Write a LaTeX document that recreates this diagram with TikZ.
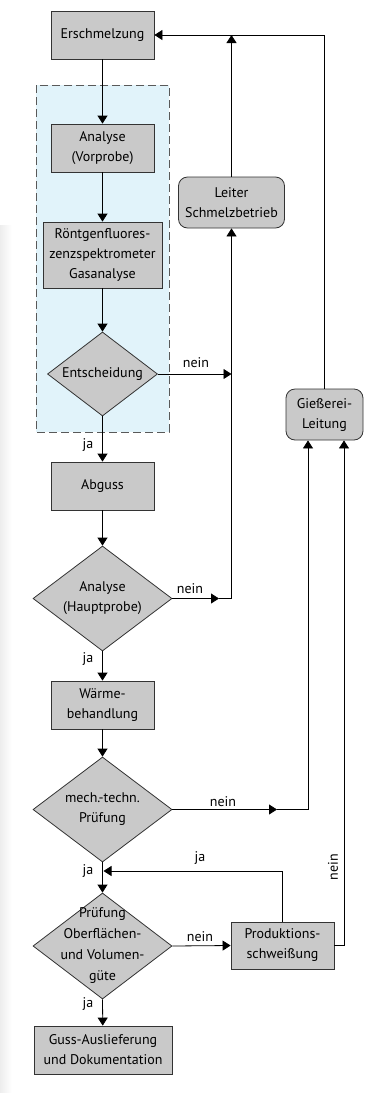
\documentclass[tikz,border=0pt]{standalone}
\usepackage{fontspec}
\setmainfont{PT Sans}
\usetikzlibrary{arrows.meta,positioning,shapes.geometric,calc}
\definecolor{boxgray}{HTML}{C9C9C9}
\definecolor{qsblue}{HTML}{E1F3FA}
\tikzset{
  procbox/.style = {rectangle, draw=black!80, line width=0.8pt, fill=boxgray, minimum height=48pt, minimum width=103pt, align=center, inner sep=2pt},
  leadbox/.style = {procbox, rounded corners=9pt},
  decision/.style = {diamond, draw=black!80, line width=0.8pt, fill=boxgray, inner sep=0pt, minimum width=139pt, minimum height=105pt},
  dtext/.style = {align=center, inner sep=0pt},
  flowline/.style = {line width=0.8pt},
  flowarrow/.style = {-{Triangle[length=8pt,width=10pt]}, line width=0.8pt},
  lbl/.style = {inner sep=1pt},
}

\begin{document}
\begin{tikzpicture}[x=1pt,y=-1pt,font=\fontsize{14}{20}\selectfont]
\useasboundingbox (0,0) rectangle (374,1093);
\fill[left color=gray!14, right color=white] (0,225) rectangle (12,1093);
% Vorprobe-Bereich
\fill[qsblue] (36,85) rectangle (169,432);
\draw[black!65, dash pattern=on 8pt off 4pt, line width=0.8pt] (36,85) rectangle (169,432);

% Hauptspalte
\node[procbox] (ersch) at (102.5,35) {Erschmelzung};
\node[procbox] (vorprobe) at (102.5,148) {Analyse\\(Vorprobe)};
\node[procbox, minimum width=119pt, minimum height=66pt] (rfa) at (102.5,255) {Röntgenfluores-\\zenzspektrometer\\Gasanalyse};
\node[decision, minimum width=110pt, minimum height=84pt, label={[dtext]center:Entscheidung}] (ent) at (102.5,374) {};
\node[procbox] (abguss) at (102.5,486) {Abguss};
\node[decision, label={[dtext]center:Analyse\\(Hauptprobe)}] (haupt) at (102.5,598.5) {};
\node[procbox] (waerme) at (102.5,705) {Wärme-\\behandlung};
\node[decision, label={[dtext]center:mech.-techn.\\Prüfung}] (mech) at (102.5,809.5) {};
\node[decision, minimum height=106pt, label={[dtext, font=\fontsize{14}{21}\selectfont]center:Prüfung\\Oberflächen-\\und Volumen-\\güte}] (ober) at (102.5,946) {};
\node[procbox, minimum width=138pt] (guss) at (103,1050) {Guss-Auslieferung\\und Dokumentation};

% Nebenstellen
\node[leadbox, minimum width=106pt, minimum height=51pt] (leiter) at (231.5,202.5) {Leiter\\Schmelzbetrieb};
\node[leadbox, minimum width=77pt, minimum height=51pt] (giess) at (324.5,414.5) {Gießerei-\\Leitung};
\node[procbox, minimum height=47pt] (prod) at (282.5,945.5) {Produktions-\\schweißung};

\coordinate (hpmid) at (219,598.5);
\coordinate (mtmid) at (277,809.5);
\coordinate (gleft) at ($(giess.south)+(-16.5,0)$);
\coordinate (gright) at ($(giess.south)+(19.5,0)$);
\coordinate (jaback) at (103.5,871);

\draw[flowarrow] (ersch) -- (vorprobe);
\draw[flowarrow] (vorprobe) -- (rfa);
\draw[flowarrow] (rfa) -- (ent.north);
\draw[flowarrow] (ent.south) -- (abguss);
\draw[flowarrow] (ent.east) -- (ent.east -| leiter.south);
\draw[flowarrow] (abguss) -- (haupt.north);
\draw[flowarrow] (haupt.east) -- (hpmid);
\draw[flowarrow] (hpmid) -| (leiter.south);
\draw[flowarrow] (leiter.north) -- (leiter.north |- ersch.east);
\draw[flowarrow] (giess.north) |- (ersch.east);
\draw[flowarrow] (haupt.south) -- (waerme);
\draw[flowarrow] (waerme) -- (mech.north);
\draw[flowarrow] (mech.east) -- (mtmid);
\draw[flowarrow] (mtmid) -| (gleft);
\draw[flowarrow] (mech.south) -- (ober.north);
\draw[flowarrow] (ober.east) -- (prod.west);
\draw[flowarrow] (prod.north) |- (jaback);
\draw[flowarrow] (prod.east) -| (gright);
\draw[flowarrow] (ober.south) -- (guss);

% Beschriftungen
\node[lbl] (l1) at (196,363) {nein};
\node[lbl] (l2) at (88,445) {ja};
\node[lbl] (l3) at (190,589) {nein};
\node[lbl] (l4) at (88,659) {ja};
\node[lbl] (l5) at (223,802) {nein};
\node[lbl] (l6) at (88,871) {ja};
\node[lbl] (l7) at (200,858) {ja};
\node[lbl] (l8) at (200,937) {nein};
\node[lbl] (l9) at (88,1004) {ja};
\node[lbl, rotate=90] (l10) at (333,867) {nein};
\end{tikzpicture}
\end{document}
